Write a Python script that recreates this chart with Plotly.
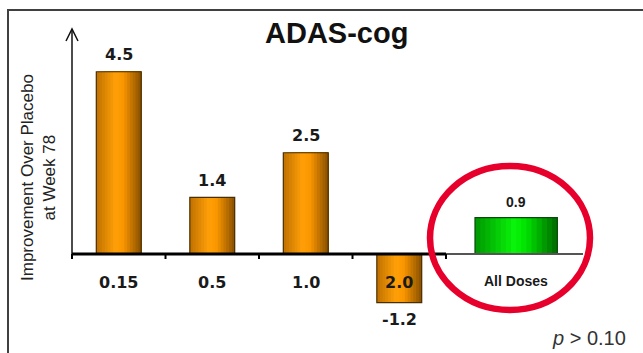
import plotly.graph_objects as go

# ADAS-cog improvement over placebo at week 78, by dose
doses = ["0.15", "0.5", "1.0", "2.0"]
dose_values = [4.5, 1.4, 2.5, -1.2]
pooled_label = "All Doses"
pooled_value = 0.9
title_text = "ADAS-cog"
ylabel_lines = ["Improvement Over Placebo", "at Week 78"]
p_text = "<i>p</i> &gt; 0.10"

categories = doses + [pooled_label]

# ---- canvas geometry (pixels) ----
W, H = 643, 353
L, R, T, B = 72, 583, 29, 330
PW, PH = R - L, B - T
X_MIN, X_MAX = -0.5, 4.965
Y_MIN, Y_MAX = -1.8765, 5.5556
PX_PER_CAT = PW / (X_MAX - X_MIN)


def px2x(px):
    return (px - L) / PW


def py2y(py):
    return (B - py) / PH


def val2py(v):
    return B - (v - Y_MIN) / (Y_MAX - Y_MIN) * PH


def lerp_color(stops, u):
    for (u0, c0), (u1, c1) in zip(stops, stops[1:]):
        if u <= u1:
            t = 0 if u1 == u0 else (u - u0) / (u1 - u0)
            c = [round(a + (b - a) * t) for a, b in zip(c0, c1)]
            return "rgb(%d,%d,%d)" % tuple(c)
    return "rgb(%d,%d,%d)" % tuple(stops[-1][1])


orange_stops = [(0.0, (190, 112, 0)), (0.42, (255, 160, 8)), (0.6, (250, 150, 0)), (1.0, (135, 80, 0))]
green_stops = [(0.0, (0, 150, 0)), (0.48, (10, 245, 10)), (0.62, (0, 225, 0)), (1.0, (0, 105, 0))]

fig = go.Figure()

N_STRIPS = 16


def shaded_bars(x, y, width, shift, stops, outline):
    # horizontal shading built from layered bars, each reaching the right edge
    for i in range(N_STRIPS):
        u = i / N_STRIPS
        fig.add_trace(go.Bar(
            x=x, y=y,
            width=width * (1 - u),
            offset=shift - width / 2 + width * u,
            marker=dict(color=lerp_color(stops, u + 0.5 / N_STRIPS), line=dict(width=0)),
            showlegend=False, hoverinfo="skip",
        ))
    fig.add_trace(go.Bar(
        x=x, y=y, width=width, offset=shift - width / 2,
        marker=dict(color="rgba(0,0,0,0)", line=dict(color=outline, width=1.2)),
        showlegend=False, hoverinfo="skip",
    ))


DOSE_W = 0.48
POOL_W = 0.88
POOL_SHIFT = 0.25

shaded_bars(doses, dose_values, DOSE_W, 0.0, orange_stops, "#4a2e00")
shaded_bars([pooled_label], [pooled_value], POOL_W, POOL_SHIFT, green_stops, "#0a4a0a")

annotations = []
num_font = dict(family="DejaVu Sans", size=16, color="#1a1a1a", weight="bold")
small_font = dict(family="Liberation Sans", size=14, color="#1a1a1a", weight="bold")
pool_idx = categories.index(pooled_label)

# value labels above / below each bar (category index positions)
for i, v in enumerate(dose_values):
    annotations.append(dict(
        x=i, y=v, xref="x", yref="y", text="%.1f" % v, showarrow=False,
        yanchor="middle", yshift=17 if v >= 0 else -17, font=num_font,
    ))
annotations.append(dict(
    x=pool_idx + POOL_SHIFT, y=pooled_value, xref="x", yref="y",
    text="%.1f" % pooled_value, showarrow=False, yanchor="middle", yshift=16,
    font=small_font,
))

# category labels along the zero line
for i, cat in enumerate(doses):
    annotations.append(dict(
        x=i, y=0, xref="x", yref="y", text=cat, showarrow=False,
        yanchor="middle", yshift=-28, font=num_font,
    ))
annotations.append(dict(
    x=pool_idx + POOL_SHIFT, y=0, xref="x", yref="y", text=pooled_label,
    showarrow=False, yanchor="middle", yshift=-27, font=small_font,
))

# title
annotations.append(dict(
    x=px2x(336), y=py2y(33), xref="paper", yref="paper", text=title_text,
    showarrow=False, xanchor="center", yanchor="middle",
    font=dict(family="Liberation Sans", size=29, color="#111111", weight="bold"),
))

# rotated y-axis caption
for line, cx in zip(ylabel_lines, [27, 48.5]):
    annotations.append(dict(
        x=px2x(cx), y=py2y(178), xref="paper", yref="paper", text=line,
        showarrow=False, textangle=-90, xanchor="center", yanchor="middle",
        font=dict(family="Liberation Sans", size=17, color="#222222"),
    ))

# significance note
annotations.append(dict(
    x=px2x(589), y=py2y(338), xref="paper", yref="paper", text=p_text,
    showarrow=False, xanchor="center", yanchor="middle",
    font=dict(family="Liberation Sans", size=20, color="#333333"),
))

shapes = []
# outer frame
shapes.append(dict(
    type="rect", xref="paper", yref="paper",
    x0=px2x(8), x1=px2x(700), y0=py2y(10), y1=py2y(400),
    line=dict(color="#404040", width=2), fillcolor="rgba(0,0,0,0)", layer="below",
))
# vertical axis with open arrowhead
ax_px = L
tip_py = T
zero_py = val2py(0)
shapes.append(dict(
    type="line", xref="paper", yref="paper",
    x0=px2x(ax_px), x1=px2x(ax_px), y0=py2y(zero_py), y1=py2y(tip_py),
    line=dict(color="#111111", width=1.5), layer="above",
))
shapes.append(dict(
    type="path", xref="paper", yref="paper",
    path="M %f,%f L %f,%f L %f,%f" % (
        px2x(ax_px - 6), py2y(tip_py + 12),
        px2x(ax_px), py2y(tip_py),
        px2x(ax_px + 6), py2y(tip_py + 12)),
    line=dict(color="#111111", width=1.5), layer="above",
))
# zero baseline: heavy under the doses, lighter under the pooled bar
split = len(doses) - 0.5
shapes.append(dict(
    type="line", xref="x", yref="y", x0=X_MIN, x1=split, y0=0, y1=0,
    line=dict(color="#000000", width=2.8), layer="above",
))
shapes.append(dict(
    type="line", xref="x", yref="y", x0=split, x1=X_MAX, y0=0, y1=0,
    line=dict(color="#555555", width=2), layer="above",
))
# tick marks at category boundaries
for i in range(len(doses) + 1):
    bx = L + (i - 0.5 - X_MIN) * PX_PER_CAT
    shapes.append(dict(
        type="line", xref="paper", yref="paper",
        x0=px2x(bx), x1=px2x(bx), y0=py2y(zero_py), y1=py2y(zero_py + 5),
        line=dict(color="#000000", width=2), layer="above",
    ))
# red highlight ring round the pooled result
shapes.append(dict(
    type="circle", xref="paper", yref="paper",
    x0=px2x(430), x1=px2x(590), y0=py2y(310), y1=py2y(166),
    line=dict(color="#e6002b", width=6.5), fillcolor="rgba(0,0,0,0)", layer="above",
))

fig.update_layout(
    width=W, height=H,
    margin=dict(l=L, r=W - R, t=T, b=H - B),
    paper_bgcolor="white", plot_bgcolor="white",
    barmode="overlay",
    showlegend=False,
    xaxis=dict(
        type="category", categoryorder="array", categoryarray=categories,
        range=[X_MIN, X_MAX], showgrid=False, zeroline=False, showline=False,
        ticks="", showticklabels=False, fixedrange=True,
    ),
    yaxis=dict(
        range=[Y_MIN, Y_MAX], showgrid=False, zeroline=False, showline=False,
        ticks="", showticklabels=False, fixedrange=True,
    ),
    annotations=annotations,
    shapes=shapes,
)

fig.write_html("out.html")
